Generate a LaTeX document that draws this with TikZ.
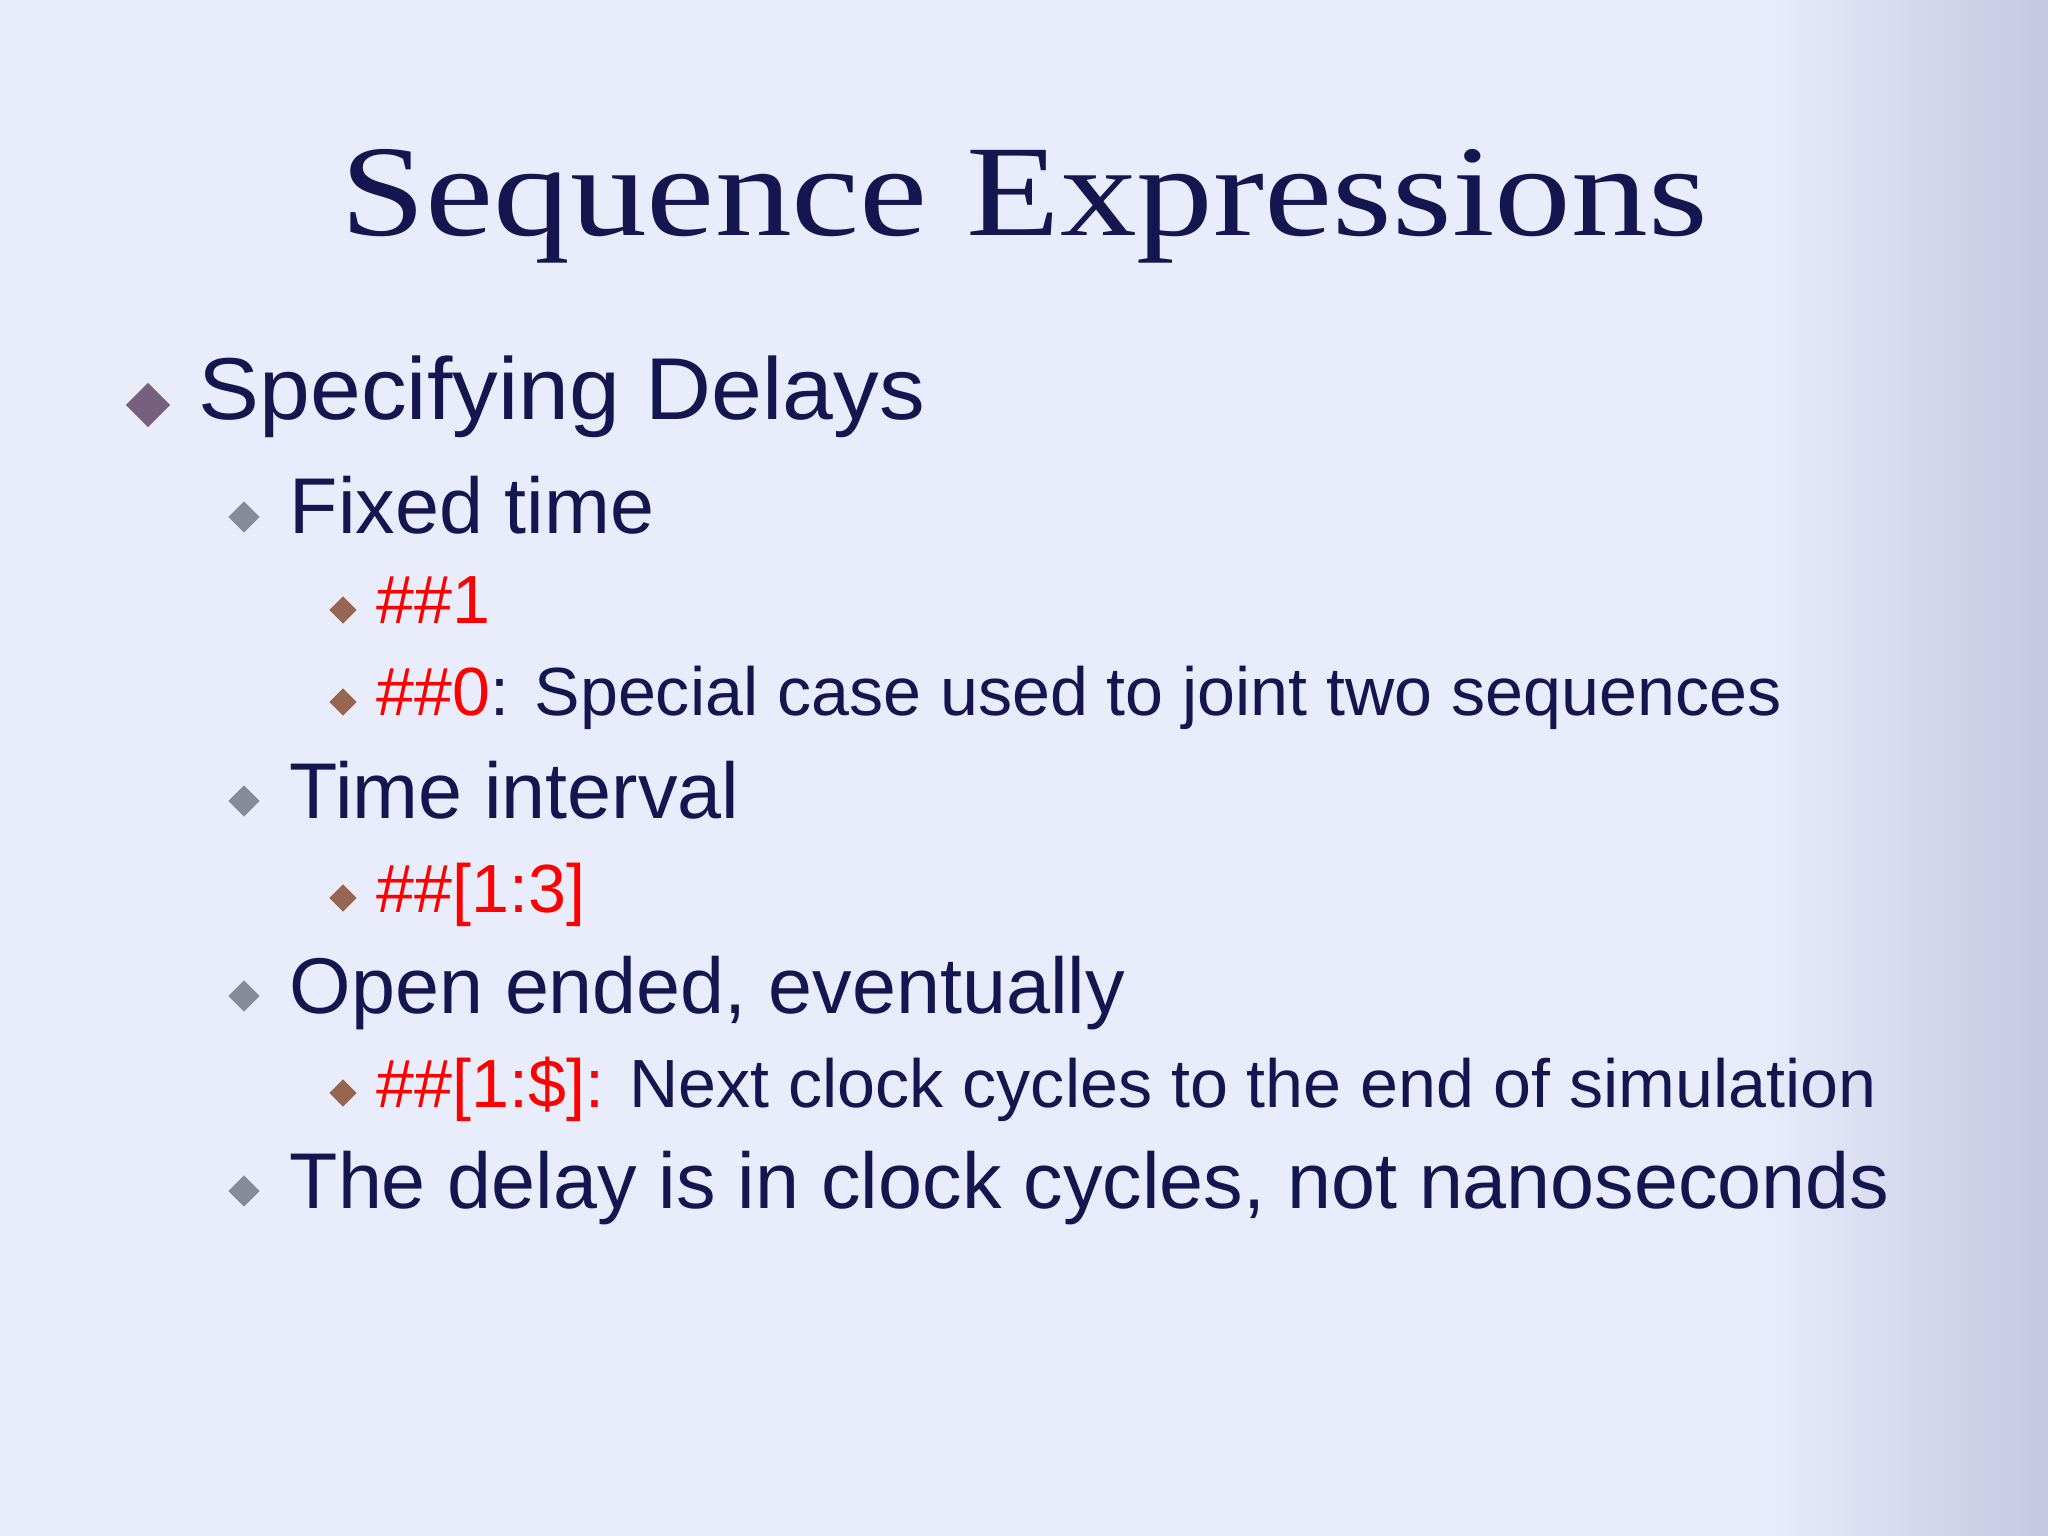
\documentclass[tikz,border=0pt]{standalone}
\usepackage{fontspec}
\setmainfont{Liberation Sans}
\newfontfamily\titlefont{Liberation Serif}
\definecolor{bg}{HTML}{E9ECFB}
\definecolor{bgdark}{HTML}{C4C8E2}
\definecolor{navy}{HTML}{15154F}
\definecolor{bulA}{HTML}{76607E}
\definecolor{bulB}{HTML}{868B98}
\definecolor{bulC}{HTML}{976650}
\tikzset{
  lone/.style={anchor=base west,inner sep=0pt,text=navy,font=\fontsize{25}{28}\selectfont,xscale=1.04},
  ltwo/.style={anchor=base west,inner sep=0pt,text=navy,font=\fontsize{22.5}{26}\selectfont},
  lthree/.style={anchor=base west,inner sep=0pt,text=navy,font=\fontsize{19.4}{23}\selectfont},
  dia/.style={diamond,shape aspect=1,inner sep=0pt,minimum size=#1},
}
\usetikzlibrary{shapes.geometric}
\begin{document}
\begin{tikzpicture}
\useasboundingbox (0,0) rectangle (20.48,-15.36);
\fill[bg] (0,0) rectangle (20.48,-15.36);
\shade[left color=bg,right color=bgdark] (17.6,0) rectangle (20.48,-15.36);
\node[anchor=base,inner sep=0pt,text=navy,font=\titlefont\fontsize{37}{40}\selectfont,xscale=1.18] (title) at (10.24,-2.36) {Sequence Expressions};
% level 1
\node[dia=0.45cm,fill=bulA] (b1) at (1.48,-4.05) {};
\node[lone] (t1) at (1.98,-4.20) {Specifying Delays};
% level 2
\node[dia=0.32cm,fill=bulB] (b2) at (2.44,-5.17) {};
\node[ltwo] (t2) at (2.89,-5.33) {Fixed time};
\node[dia=0.32cm,fill=bulB] (b3) at (2.44,-8.01) {};
\node[ltwo] (t3) at (2.89,-8.18) {Time interval};
\node[dia=0.32cm,fill=bulB] (b4) at (2.44,-9.96) {};
\node[ltwo] (t4) at (2.89,-10.13) {Open ended, eventually};
\node[dia=0.32cm,fill=bulB] (b5) at (2.44,-11.91) {};
\node[ltwo] (t5) at (2.89,-12.08) {The delay is in clock cycles, not nanoseconds};
% level 3
\node[dia=0.28cm,fill=bulC] (c1) at (3.43,-6.10) {};
\node[lthree] (u1) at (3.76,-6.24) {\textcolor{red}{\#\#1}};
\node[dia=0.28cm,fill=bulC] (c2) at (3.43,-7.02) {};
\node[lthree] (u2) at (3.76,-7.16) {\textcolor{red}{\#\#0}: Special case used to joint two sequences};
\node[dia=0.28cm,fill=bulC] (c3) at (3.43,-8.98) {};
\node[lthree] (u3) at (3.76,-9.12) {\textcolor{red}{\#\#[1:3]}};
\node[dia=0.28cm,fill=bulC] (c4) at (3.43,-10.93) {};
\node[lthree] (u4) at (3.76,-11.07) {\textcolor{red}{\#\#[1:\$]:} Next clock cycles to the end of simulation};
\end{tikzpicture}
\end{document}
